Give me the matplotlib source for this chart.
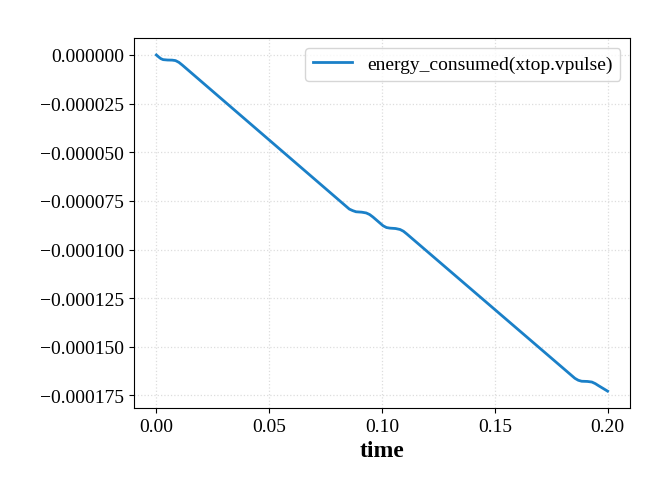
import matplotlib
matplotlib.use("Agg")
import matplotlib.pyplot as plt
from matplotlib.ticker import FuncFormatter

time = [0.0, 0.001, 0.002, 0.003, 0.005, 0.007, 0.0085, 0.0100, 0.0115,
        0.0855, 0.087, 0.0885, 0.091, 0.093, 0.0945, 0.0960,
        0.1005, 0.102, 0.1035, 0.106, 0.108, 0.1095, 0.111,
        0.1855, 0.187, 0.1885, 0.191, 0.193, 0.1945, 0.196, 0.2]
energy = [0.0, -1.0e-6, -1.9e-6, -2.4e-6, -2.6e-6, -2.65e-6, -2.9e-6, -3.8e-6, -5.2e-6,
          -7.92e-5, -8.0e-5, -8.06e-5, -8.08e-5, -8.12e-5, -8.2e-5, -8.33e-5,
          -8.78e-5, -8.87e-5, -8.9e-5, -8.92e-5, -8.97e-5, -9.06e-5, -9.2e-5,
          -1.662e-4, -1.672e-4, -1.677e-4, -1.678e-4, -1.681e-4, -1.689e-4, -1.700e-4, -1.728e-4]
label = "energy_consumed(xtop.vpulse)"
xticks = [0.0, 0.05, 0.10, 0.15, 0.20]
xticklabels = ['0.00', '0.05', '0.10', '0.15', '0.20']

plt.rcParams['font.family'] = ['Liberation Serif', 'DejaVu Serif']

fig = plt.figure(figsize=(6.69, 5.02), dpi=100)
ax = fig.add_axes([0.2, 0.1853, 0.742, 0.7367])
ax.plot(time, energy, color='#1a80c8', linewidth=2, label=label)
ax.grid(True, linestyle=':', color='#dddddd', linewidth=0.9)
ax.set_xlabel('time', fontsize=17, fontweight='bold')
ax.tick_params(labelsize=14)
ax.yaxis.set_major_formatter(FuncFormatter(
    lambda v, p: ('%.6f' % v).replace('-', '\u2212') if abs(v) > 1e-12 else '0.000000'))
ax.set_xticks(xticks)
ax.set_xticklabels(xticklabels)
ax.legend(loc='upper right', fontsize=14)
fig.savefig('out.png', dpi=100)
